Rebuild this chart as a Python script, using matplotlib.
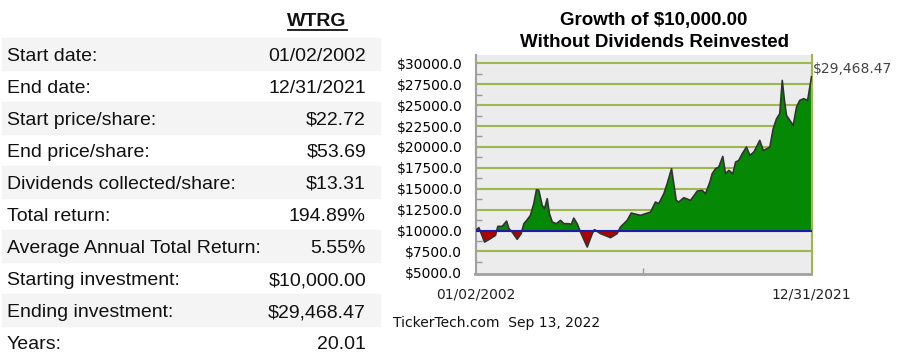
import numpy as np
import matplotlib
matplotlib.use('Agg')
import matplotlib.pyplot as plt
from matplotlib.patches import Rectangle
from matplotlib.lines import Line2D

# Table on the left
row_labels = ["Start date:", "End date:", "Start price/share:", "End price/share:",
              "Dividends collected/share:", "Total return:", "Average Annual Total Return:",
              "Starting investment:", "Ending investment:", "Years:"]
row_values = ["01/02/2002", "12/31/2021", "$22.72", "$53.69", "$13.31", "194.89%",
              "5.55%", "$10,000.00", "$29,468.47", "20.01"]

# Growth of $10,000, x in decimal years
years = [2002.00, 2002.20, 2002.54, 2002.89, 2003.19, 2003.33, 2003.59, 2003.85, 2003.98,
         2004.18, 2004.48, 2004.72, 2004.88, 2005.08, 2005.27, 2005.47, 2005.63, 2005.77,
         2005.97, 2006.11, 2006.27, 2006.40, 2006.57, 2006.82, 2007.06, 2007.26, 2007.55,
         2007.70, 2007.85, 2008.05, 2008.25, 2008.65, 2008.95, 2009.08, 2009.44, 2010.04,
         2010.43, 2010.63, 2011.03, 2011.27, 2011.82, 2012.42, 2012.71, 2012.91, 2013.21,
         2013.41, 2013.67, 2013.95, 2014.10, 2014.40, 2014.80, 2015.20, 2015.49, 2015.69,
         2015.95, 2016.09, 2016.29, 2016.48, 2016.72, 2016.88, 2017.08, 2017.32, 2017.48,
         2017.67, 2017.88, 2018.13, 2018.33, 2018.57, 2018.77, 2018.92, 2019.13, 2019.36,
         2019.52, 2019.72, 2019.92, 2020.11, 2020.26, 2020.39, 2020.51, 2020.71, 2020.91,
         2021.11, 2021.30, 2021.54, 2021.77, 2022.00]
growth = [10000, 10350, 8620, 9030, 9420, 10500, 10500, 11130, 10260,
          9820, 8950, 9630, 10820, 11300, 11820, 13220, 14890, 14810,
          13010, 12620, 13810, 12020, 11020, 10820, 11220, 10820, 10820,
          10740, 11490, 10820, 9820, 8030, 9630, 10110, 9630, 9150,
          9630, 10420, 11220, 12090, 11820, 12210, 13410, 13220, 14410,
          15610, 17400, 13610, 13410, 13930, 13610, 14720, 14810, 14410,
          15800, 16800, 17400, 17590, 18870, 16800, 17200, 16800, 18190,
          18390, 19200, 19990, 18990, 19390, 20190, 20790, 19590, 19800,
          19990, 22190, 23380, 23980, 27960, 25570, 23780, 23180, 22580,
          24770, 25570, 25780, 25570, 28400]

base = 10000
ytick_vals = [5000, 7500, 10000, 12500, 15000, 17500, 20000, 22500, 25000, 27500, 30000]
date_labels = ["01/02/2002", "12/31/2021"]

W, H = 901, 361
fig = plt.figure(figsize=(W / 100, H / 100), dpi=100)

def fx(px):
    return px / W

def fy(py):
    return (H - py) / H

# ---- table ----
sans = 'Liberation Sans'
for i, (lab, val) in enumerate(zip(row_labels, row_values)):
    top = 38 + 32 * i
    if i % 2 == 0:
        fig.patches.append(Rectangle((fx(2), fy(top + 32)), fx(378), 32 / H,
                                     transform=fig.transFigure, color='#f4f4f4', zorder=0))
    fig.text(fx(7), fy(61 + 32 * i), lab, family=sans, fontsize=14, va='baseline', color='#111')
    fig.text(fx(366), fy(61 + 32 * i), val, family=sans, fontsize=14, va='baseline',
             ha='right', color='#111')

fig.text(fx(317), fy(26.5), "WTRG", family=sans, fontsize=14, weight='bold',
         ha='center', va='baseline', color='#111')
fig.lines.append(Line2D([fx(288), fx(347)], [fy(29.5), fy(29.5)], transform=fig.transFigure,
                        color='#111', lw=1.3))

# ---- chart ----
fig.text(fx(654), fy(25), "Growth of $10,000.00", family=sans, fontsize=13.5,
         weight='bold', ha='center', va='baseline')
fig.text(fx(654), fy(47), "Without Dividends Reinvested", family=sans, fontsize=13.5,
         weight='bold', ha='center', va='baseline')

ax = fig.add_axes([fx(475.5), fy(274), 336 / W, 219 / H])
ax.set_facecolor('#ececec')
ax.set_xlim(2002, 2022)
ax.set_ylim(4800, 31000)

x = np.array(years)
y = np.array(growth)
ax.fill_between(x, base, y, where=y >= base, interpolate=True, color='#058905', lw=0, zorder=2)
ax.fill_between(x, base, y, where=y < base, interpolate=True, color='#b00000', lw=0, zorder=2)

for v in ytick_vals[1:]:
    ax.axhline(v, color='#9cb84e', lw=1.5, zorder=1)
ax.plot(x, y, color='#333333', lw=1.2, zorder=3)
ax.axhline(base, color='#1c1ca8', lw=1.5, zorder=4)

ax.set_yticks(ytick_vals, [f"${v}.0" for v in ytick_vals], family='DejaVu Sans', fontsize=10)
ax.set_yticks([v + 1250 for v in ytick_vals[:-1]], minor=True)
ax.set_xticks([2002, 2022], date_labels, family='DejaVu Sans', fontsize=10, color='#222')
ax.set_xticks([2012], minor=True)
ax.tick_params(axis='both', which='major', length=0)
ax.tick_params(axis='y', which='major', pad=9.5)
ax.tick_params(axis='x', which='major', pad=9.5)
ax.tick_params(which='minor', direction='in', length=4, width=1, color='#999999')

for s in ['top']:
    ax.spines[s].set_visible(False)
ax.spines['left'].set_color('#a0a0a0')
ax.spines['bottom'].set_color('#a0a0a0')
ax.spines['left'].set_linewidth(1.5)
ax.spines['bottom'].set_linewidth(2)
ax.spines['right'].set_color('#9cb84e')
ax.spines['right'].set_linewidth(1.5)

fig.text(fx(813), fy(69), "$29,468.47", family='DejaVu Sans', fontsize=10,
         va='center', color='#444444')
fig.text(fx(393), fy(327), "TickerTech.com  Sep 13, 2022", family='DejaVu Sans',
         fontsize=10, va='baseline', color='#111')

fig.savefig('out.png', dpi=100)
